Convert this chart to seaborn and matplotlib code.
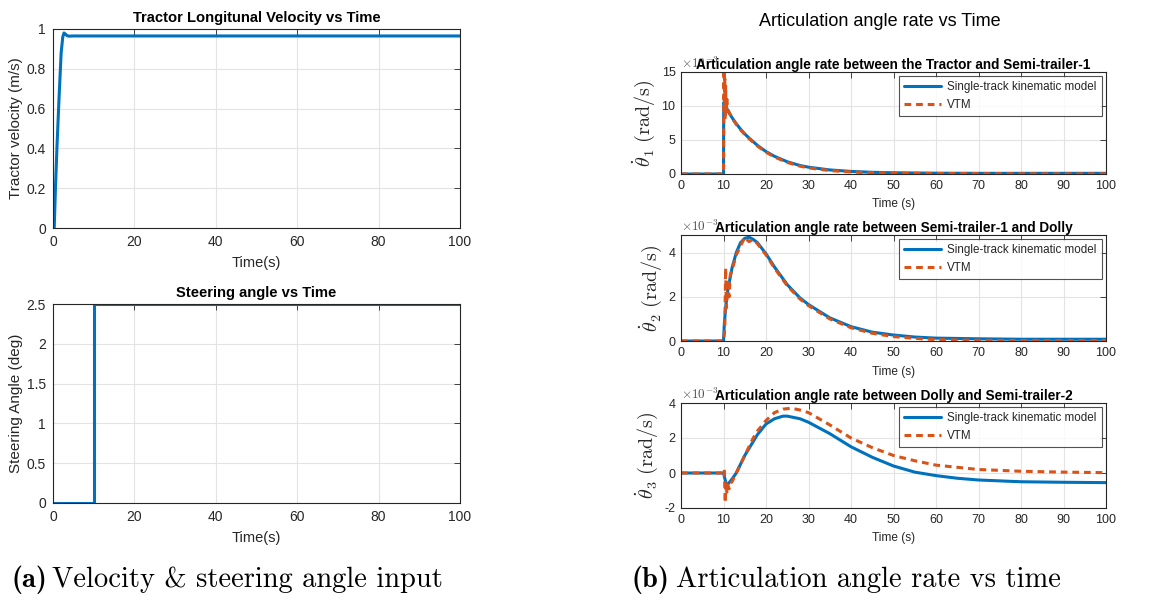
import numpy as np
import pandas as pd
import matplotlib
matplotlib.use("Agg")
import matplotlib.pyplot as plt
import seaborn as sns

# ---------------- data ----------------
vel_t = [0, 0.3, 0.6, 1.0, 1.5, 2.0, 2.4, 2.7, 3.0, 3.5, 4.0, 5.0, 10, 100]
vel_v = [0, 0.0, 0.2, 0.42, 0.66, 0.88, 0.96, 0.98, 0.975, 0.966, 0.964, 0.965, 0.965, 0.965]

steer_t = [0, 10, 10, 100]
steer_v = [0, 0, 2.5, 2.5]

th1_stkm_t = [0, 10, 10.05, 10.5, 11, 12, 13, 14, 15, 16, 18, 20, 22, 25, 28, 30, 35, 40, 45, 50, 60, 70, 80, 100]
th1_stkm_v = [0, 0, 10.5, 10.2, 9.3, 8.3, 7.4, 6.6, 5.9, 5.3, 4.2, 3.3, 2.6, 1.8, 1.25, 1.0, 0.6, 0.38, 0.25, 0.18, 0.12, 0.1, 0.1, 0.1]
th1_vtm_t = [0, 10, 10.1, 10.2, 10.3, 10.4, 10.5, 10.6, 10.8, 11, 12, 13, 14, 15, 16, 18, 20, 22, 25, 28, 30, 35, 40, 45, 50, 60, 80, 100]
th1_vtm_v = [0, 0, 15.5, 11.0, 14.0, 8.0, 13.0, 9.0, 11.0, 9.5, 8.2, 7.3, 6.5, 5.8, 5.2, 4.1, 3.2, 2.5, 1.7, 1.15, 0.9, 0.5, 0.3, 0.18, 0.12, 0.07, 0.03, 0.02]

th2_stkm_t = [0, 10, 10.2, 10.5, 11, 12, 13, 14, 15, 16, 17, 18, 20, 22, 25, 28, 30, 35, 40, 45, 50, 55, 60, 70, 80, 100]
th2_stkm_v = [0, 0, 0.8, 1.5, 2.3, 3.3, 4.0, 4.45, 4.65, 4.7, 4.6, 4.45, 3.95, 3.35, 2.55, 1.95, 1.65, 1.05, 0.65, 0.4, 0.27, 0.18, 0.13, 0.1, 0.08, 0.08]
th2_vtm_t = [0, 10, 10.3, 10.5, 10.7, 11, 11.3, 11.6, 12, 13, 14, 15, 16, 17, 18, 20, 22, 25, 28, 30, 35, 40, 45, 50, 55, 60, 70, 80, 100]
th2_vtm_v = [0, 0, 0.5, 3.3, 1.5, 2.8, 2.0, 3.0, 3.2, 3.9, 4.3, 4.7, 4.5, 4.6, 4.4, 3.9, 3.3, 2.5, 1.9, 1.6, 1.0, 0.6, 0.35, 0.2, 0.12, 0.06, 0.03, 0.02, 0.02]

th3_stkm_t = [0, 10, 10.3, 10.7, 11, 11.5, 12, 13, 14, 15, 16, 17, 18, 20, 22, 24, 25, 26, 28, 30, 35, 40, 45, 50, 55, 60, 65, 70, 80, 90, 100]
th3_stkm_v = [0, 0, -0.3, -0.7, -0.65, -0.5, -0.35, 0.0, 0.5, 1.0, 1.4, 1.8, 2.2, 2.8, 3.1, 3.25, 3.25, 3.2, 3.1, 2.9, 2.25, 1.5, 0.9, 0.4, 0.05, -0.15, -0.3, -0.4, -0.5, -0.53, -0.55]
th3_vtm_t = [0, 10, 10.2, 10.4, 10.6, 10.8, 11, 11.3, 11.6, 12, 13, 14, 15, 16, 17, 18, 20, 22, 24, 26, 28, 30, 35, 40, 45, 50, 55, 60, 70, 80, 90, 100]
th3_vtm_v = [0, 0, 0.2, -1.7, -0.5, -1.1, -0.7, -0.9, -0.6, -0.5, 0.0, 0.5, 1.0, 1.5, 2.0, 2.4, 3.0, 3.45, 3.65, 3.7, 3.6, 3.45, 2.75, 2.0, 1.45, 1.0, 0.7, 0.45, 0.2, 0.1, 0.05, 0.02]

legend_labels = ["Single-track kinematic model", "VTM"]
right_titles = ["Articulation angle rate between the Tractor and Semi-trailer-1",
                "Articulation angle rate between Semi-trailer-1 and Dolly",
                "Articulation angle rate between Dolly and Semi-trailer-2"]

# ---------------- style ----------------
sns.set_theme(style="whitegrid")
plt.rcParams.update({
    "font.family": ["Liberation Sans", "DejaVu Sans"],
    "mathtext.fontset": "cm",
    "axes.edgecolor": "#262626",
    "axes.linewidth": 0.8,
    "grid.color": "#e3e3e3",
    "grid.linewidth": 0.8,
    "xtick.direction": "in",
    "ytick.direction": "in",
    "xtick.top": True,
    "ytick.right": True,
    "xtick.major.size": 4,
    "ytick.major.size": 4,
    "xtick.major.width": 0.6,
    "ytick.major.width": 0.6,
    "xtick.color": "#262626",
    "ytick.color": "#262626",
    "text.color": "#262626",
    "axes.labelcolor": "#262626",
})

BLUE = "#0072BD"
ORANGE = "#D95319"

W, H = 1153, 601
fig = plt.figure(figsize=(W / 100, H / 100), dpi=100)


def add_ax(x0, y0, x1, y1):
    return fig.add_axes([x0 / W, 1 - y1 / H, (x1 - x0) / W, (y1 - y0) / H])


def style_ax(ax, fs, pad=4):
    ax.set_xlim(0, 100)
    ax.tick_params(axis="both", which="major", labelsize=fs, pad=pad)
    for s in ax.spines.values():
        s.set_visible(True)
        s.set_color("#262626")
        s.set_linewidth(0.8)
    ax.grid(True, color="#e3e3e3", linewidth=0.8)


# ---------- left top: velocity ----------
ax = add_ax(53, 29, 460, 228)
df = pd.DataFrame({"t": vel_t, "v": vel_v})
sns.lineplot(data=df, x="t", y="v", ax=ax, color=BLUE, linewidth=2.2,
             estimator=None, sort=False)
style_ax(ax, 10, pad=5)
ax.set_ylim(0, 1)
ax.set_xticks([0, 20, 40, 60, 80, 100])
ax.set_yticks([0, 0.2, 0.4, 0.6, 0.8, 1])
ax.set_yticklabels(["0", "0.2", "0.4", "0.6", "0.8", "1"])
ax.set_title("Tractor Longitunal Velocity vs Time", fontsize=10.6, fontweight="bold",
             color="black", pad=5)
ax.set_xlabel("Time(s)", fontsize=10.5, labelpad=5)
ax.set_ylabel("Tractor velocity (m/s)", fontsize=11, labelpad=3)

# ---------- left bottom: steering ----------
ax = add_ax(53, 304, 460, 503)
df = pd.DataFrame({"t": steer_t, "v": steer_v})
sns.lineplot(data=df, x="t", y="v", ax=ax, color=BLUE, linewidth=2.2,
             estimator=None, sort=False)
style_ax(ax, 10, pad=5)
ax.set_ylim(0, 2.5)
ax.set_xticks([0, 20, 40, 60, 80, 100])
ax.set_yticks([0, 0.5, 1, 1.5, 2, 2.5])
ax.set_yticklabels(["0", "0.5", "1", "1.5", "2", "2.5"])
ax.set_title("Steering angle vs Time", fontsize=10.6, fontweight="bold",
             color="black", pad=5)
ax.set_xlabel("Time(s)", fontsize=10.5, labelpad=5)
ax.set_ylabel("Steering Angle (deg)", fontsize=11, labelpad=3)

# ---------- right panels ----------
right_boxes = [(681, 72, 1106, 174), (681, 235, 1106, 341), (681, 403, 1106, 508)]
right_data = [
    (th1_stkm_t, th1_stkm_v, th1_vtm_t, th1_vtm_v, (0, 15), [0, 5, 10, 15]),
    (th2_stkm_t, th2_stkm_v, th2_vtm_t, th2_vtm_v, (0, 4.8), [0, 2, 4]),
    (th3_stkm_t, th3_stkm_v, th3_vtm_t, th3_vtm_v, (-2, 4), [-2, 0, 2, 4]),
]
for i, (box, (st, sv, vt, vv, ylim, yt)) in enumerate(zip(right_boxes, right_data)):
    ax = add_ax(*box)
    d1 = pd.DataFrame({"t": st, "v": sv})
    d2 = pd.DataFrame({"t": vt, "v": vv})
    sns.lineplot(data=d1, x="t", y="v", ax=ax, color=BLUE, linewidth=2.2,
                 estimator=None, sort=False, label=legend_labels[0])
    sns.lineplot(data=d2, x="t", y="v", ax=ax, color=ORANGE, linewidth=2.2,
                 estimator=None, sort=False, label=legend_labels[1],
                 linestyle=(0, (2.2, 1.6)))
    style_ax(ax, 9)
    ax.set_ylim(*ylim)
    ax.set_xticks(list(range(0, 101, 10)))
    ax.set_yticks(yt)
    ax.set_yticklabels([str(v) for v in yt])
    ax.text(0.0, 1.005, r"$\times10^{-3}$", transform=ax.transAxes, fontsize=9.5,
            color="#505050", ha="left", va="bottom")
    ax.set_title(right_titles[i], fontsize=9.8, fontweight="bold", color="black",
                 pad=2)
    ax.set_xlabel("Time (s)", fontsize=8.6, labelpad=5)
    ax.set_ylabel(r"$\dot{\theta}_{%d}\ (\mathrm{rad/s})$" % (i + 1), fontsize=14.5,
                  labelpad=3)
    leg = ax.legend(loc="upper right", fontsize=8.4, frameon=True, fancybox=False,
                    edgecolor="#262626", handlelength=3.2, borderpad=0.45,
                    labelspacing=0.45, borderaxespad=0.35, handletextpad=0.5)
    leg.get_frame().set_linewidth(0.8)
    leg.set_zorder(10)

# ---------- figure texts ----------
fig.text(880 / W, 1 - 22 / H, "Articulation angle rate vs Time", ha="center",
         va="center", fontsize=13, color="black")

cap_y = 1 - 580 / H
fig.text(12 / W, cap_y, "(a)", ha="left", va="center", fontsize=20.5,
         fontfamily="cmb10", color="black")
fig.text(52 / W, cap_y, "Velocity & steering angle input", ha="left",
         va="center", fontsize=20.5, fontfamily="cmr10", color="black")
fig.text(632 / W, cap_y, "(b)", ha="left", va="center", fontsize=20.5,
         fontfamily="cmb10", color="black")
fig.text(676 / W, cap_y, "Articulation angle rate vs time", ha="left",
         va="center", fontsize=20.5, fontfamily="cmr10", color="black")

fig.savefig("out.png", dpi=100)
